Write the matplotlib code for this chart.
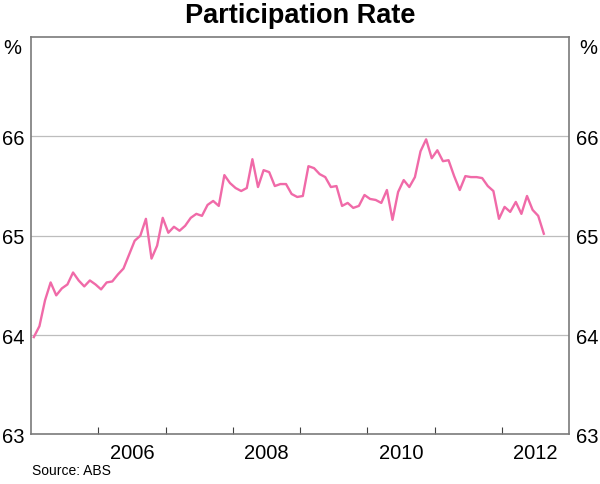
import numpy as np
import matplotlib
matplotlib.use("Agg")
import matplotlib.pyplot as plt

plt.rcParams['font.family'] = ['Liberation Sans', 'DejaVu Sans']

# monthly participation rate, Jan 2005 - Aug 2012
rate_2005 = [63.98, 64.09, 64.35, 64.53, 64.40, 64.47, 64.51, 64.63, 64.55, 64.49, 64.55, 64.51]
rate_2006 = [64.46, 64.53, 64.54, 64.61, 64.67, 64.81, 64.95, 65.00, 65.17, 64.77, 64.90, 65.18]
rate_2007 = [65.03, 65.09, 65.05, 65.10, 65.18, 65.22, 65.20, 65.31, 65.35, 65.30, 65.61, 65.53]
rate_2008 = [65.48, 65.45, 65.48, 65.77, 65.49, 65.66, 65.64, 65.50, 65.52, 65.52, 65.42, 65.39]
rate_2009 = [65.40, 65.70, 65.68, 65.62, 65.59, 65.49, 65.50, 65.30, 65.33, 65.28, 65.30, 65.41]
rate_2010 = [65.37, 65.36, 65.33, 65.46, 65.16, 65.44, 65.56, 65.49, 65.59, 65.85, 65.97, 65.78]
rate_2011 = [65.86, 65.75, 65.76, 65.60, 65.46, 65.60, 65.59, 65.59, 65.58, 65.50, 65.45, 65.17]
rate_2012 = [65.29, 65.24, 65.34, 65.22, 65.40, 65.26, 65.20, 65.02]

rate = rate_2005 + rate_2006 + rate_2007 + rate_2008 + rate_2009 + rate_2010 + rate_2011 + rate_2012
start_year = 2005
year_labels = ['2006', '2008', '2010', '2012']
y_ticks = [63, 64, 65, 66, 67]

# months plotted at mid-month
x = start_year + (np.arange(len(rate)) + 0.5) / 12

fig = plt.figure(figsize=(6, 4.85), dpi=100)
ax = fig.add_axes([0.0517, 0.1021, 0.8967, 0.8196])

ax.plot(x, rate, color='#F06AA8', lw=1.7, zorder=3)

ax.set_xlim(2005, 2013)
ax.set_ylim(63, 67)

# gridlines at interior values only
for v in y_ticks[1:-1]:
    ax.axhline(v, color='#BDBDBD', lw=0.9, zorder=1)

for s in ax.spines.values():
    s.set_color('#7A7A7A')
    s.set_linewidth(1.2)

# year boundary ticks inside, labels centred mid-year
ax.set_xticks(np.arange(2006, 2013))
ax.set_xticklabels([])
ax.tick_params(axis='x', direction='in', length=5, color='#404040', width=0.8)
ax.set_xticks([int(y) + 0.5 for y in year_labels], minor=True)
ax.set_xticklabels(year_labels, minor=True)
ax.tick_params(axis='x', which='minor', length=0, labelsize=14.5, pad=6)

ax.set_yticks(y_ticks[:-1])
ax.tick_params(axis='y', length=0, labelsize=14.5, pad=5, labelright=True)

fig.text(0.005, 0.9, '%', fontsize=14.5, va='center', ha='left')
fig.text(0.995, 0.9, '%', fontsize=14.5, va='center', ha='right')

fig.text(0.5, 0.968, 'Participation Rate', fontsize=19.5, fontweight='bold',
         ha='center', va='center')
fig.text(0.053, 0.015, 'Source: ABS', fontsize=10, ha='left', va='bottom')

fig.savefig('out.png', dpi=100)
